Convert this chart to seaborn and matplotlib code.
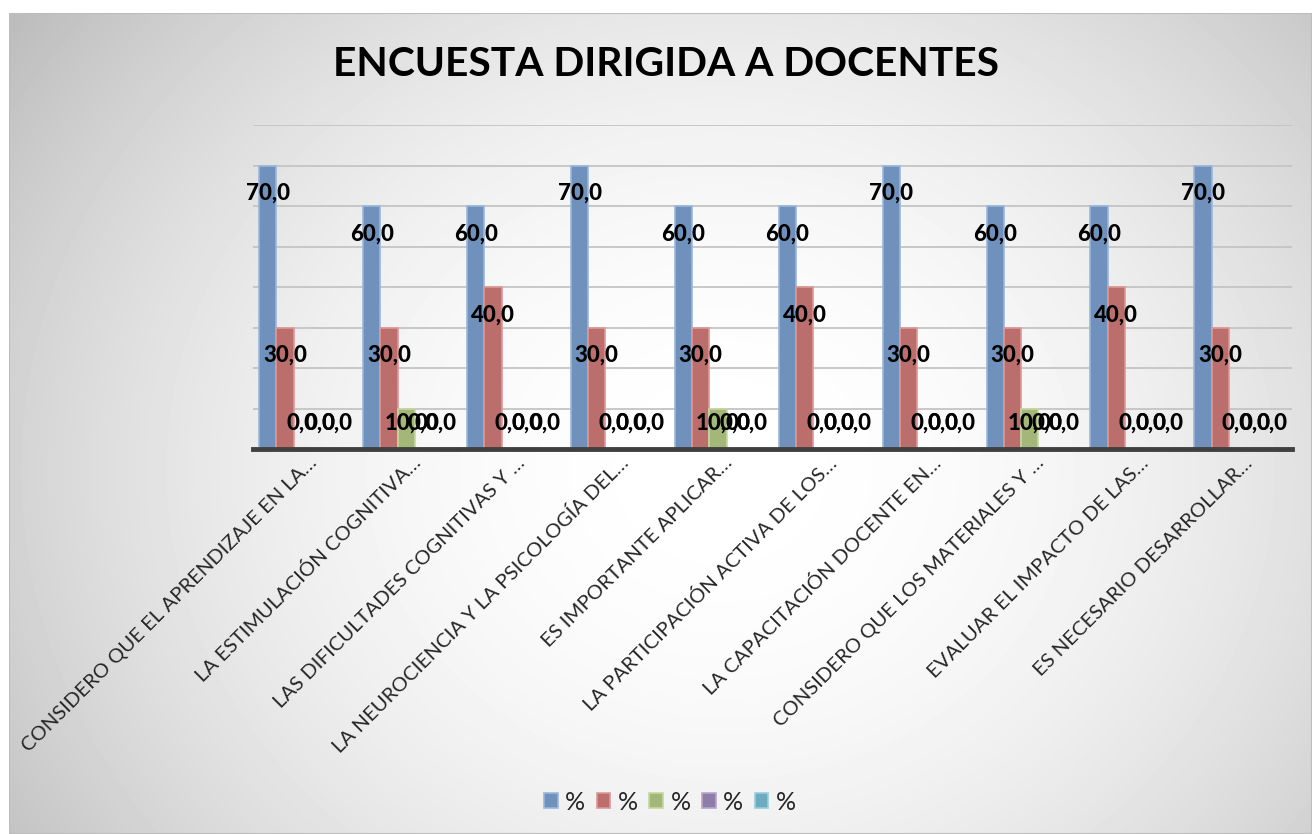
import numpy as np
import pandas as pd
import seaborn as sns
import matplotlib.pyplot as plt
from matplotlib.colors import to_rgb
from matplotlib.transforms import ScaledTranslation

categories = [
    "CONSIDERO QUE EL APRENDIZAJE EN LA…",
    "LA ESTIMULACIÓN COGNITIVA…",
    "LAS DIFICULTADES COGNITIVAS Y …",
    "LA NEUROCIENCIA Y LA PSICOLOGÍA DEL…",
    "ES IMPORTANTE APLICAR…",
    "LA PARTICIPACIÓN ACTIVA DE LOS…",
    "LA CAPACITACIÓN DOCENTE EN…",
    "CONSIDERO QUE LOS MATERIALES Y …",
    "EVALUAR EL IMPACTO DE LAS…",
    "ES NECESARIO DESARROLLAR…",
]
series = ["s1", "s2", "s3", "s4", "s5"]
legend_labels = ["%", "%", "%", "%", "%"]
pct_1 = [70, 60, 60, 70, 60, 60, 70, 60, 60, 70]
pct_2 = [30, 30, 40, 30, 30, 40, 30, 30, 40, 30]
pct_3 = [0, 10, 0, 0, 10, 0, 0, 10, 0, 0]
pct_4 = [0, 0, 0, 0, 0, 0, 0, 0, 0, 0]
pct_5 = [0, 0, 0, 0, 0, 0, 0, 0, 0, 0]
colors = ["#6390C7", "#C9625F", "#A7C36D", "#8E76B0", "#5FB4CC"]

df = pd.DataFrame({
    "pregunta": categories * 5,
    "serie": np.repeat(series, len(categories)),
    "valor": pct_1 + pct_2 + pct_3 + pct_4 + pct_5,
})

sns.set_theme(style="white")
plt.rcParams["font.family"] = ["Lato", "DejaVu Sans"]

W, H = 1312, 834
fig = plt.figure(figsize=(W / 100, H / 100), dpi=100)
fig.patch.set_facecolor("white")

# radial grey background like the Excel chart area
bg = fig.add_axes([9 / W, 0, 1 - 9 / W, 1 - 13 / H], zorder=-10)
yy, xx = np.mgrid[13:H, 9:W]
r2 = ((xx - 720) / 800) ** 2 + ((yy - 470) / 700) ** 2
shade = np.clip(1 - 0.22 * r2, 0.74, 1)
bg.imshow(shade, cmap="gray", vmin=0, vmax=1, aspect="auto", interpolation="bilinear")
bg.set_axis_off()
bg.add_patch(plt.Rectangle((0, 0), 1, 1, transform=bg.transAxes, fill=False,
                           edgecolor="#bdbdbd", linewidth=1.5))

ax = fig.add_axes([253 / W, 1 - 449 / H, (1292 - 253) / W, (449 - 125) / H])
ax.patch.set_alpha(0)

sns.barplot(df, x="pregunta", y="valor", hue="serie", palette=colors,
            width=0.83, ax=ax, linewidth=1.2)

ax.set_ylim(0, 80)
ax.set_xlim(-0.475, 9.525)


def lighten(c, f=0.35):
    r, g, b = to_rgb(c)
    return (r + (1 - r) * f, g + (1 - g) * f, b + (1 - b) * f)


# data labels: "inside end", but pushed up when the bar is too short
for cont, col in zip(ax.containers, colors):
    for bar in cont:
        bar.set_edgecolor(lighten(col))
        h = bar.get_height()
        cx = bar.get_x() + bar.get_width() / 2
        bar_px = ax.transData.transform((cx, h))[1] - ax.transData.transform((cx, 0))[1]
        down = min(28, bar_px - 26)
        ax.annotate(f"{h:.1f}".replace(".", ","), (cx, h),
                    xytext=(0, -down), textcoords="offset pixels",
                    ha="center", va="center", fontsize=16, fontweight=900,
                    color="black", zorder=5)

ax.set_yticks(range(0, 81, 10))
ax.set_yticklabels([])
ax.yaxis.grid(True, color="#c4c4c4", linewidth=1.3)
ax.set_axisbelow(True)
for side in ["left", "right", "top"]:
    ax.spines[side].set_visible(False)
ax.spines["bottom"].set_color("#404040")
ax.spines["bottom"].set_linewidth(3.5)
ax.tick_params(axis="x", length=0, pad=8)
ax.tick_params(axis="y", length=0)
ax.set_xlabel("")
ax.set_ylabel("")
shift = ScaledTranslation(12 / 100, 0, fig.dpi_scale_trans)
for lab in ax.get_xticklabels():
    lab.set_rotation(45)
    lab.set_ha("right")
    lab.set_va("center")
    lab.set_rotation_mode("anchor")
    lab.set_fontsize(14.6)
    lab.set_transform(lab.get_transform() + shift)

handles, _ = ax.get_legend_handles_labels()
ax.get_legend().remove()
for hd, col in zip(handles, colors):
    hd.set_edgecolor(lighten(col))
fig.legend(handles, legend_labels, loc="center", bbox_to_anchor=(670 / W, 1 - 802 / H),
           ncol=5, frameon=False, fontsize=18, handlelength=0.55, handleheight=0.55,
           handletextpad=0.3, columnspacing=0.45)

fig.text(666 / W, 1 - 64 / H, "ENCUESTA DIRIGIDA A DOCENTES", ha="center", va="center",
         fontsize=29.3, fontweight="bold", color="black")

fig.savefig("out.png", dpi=100)
